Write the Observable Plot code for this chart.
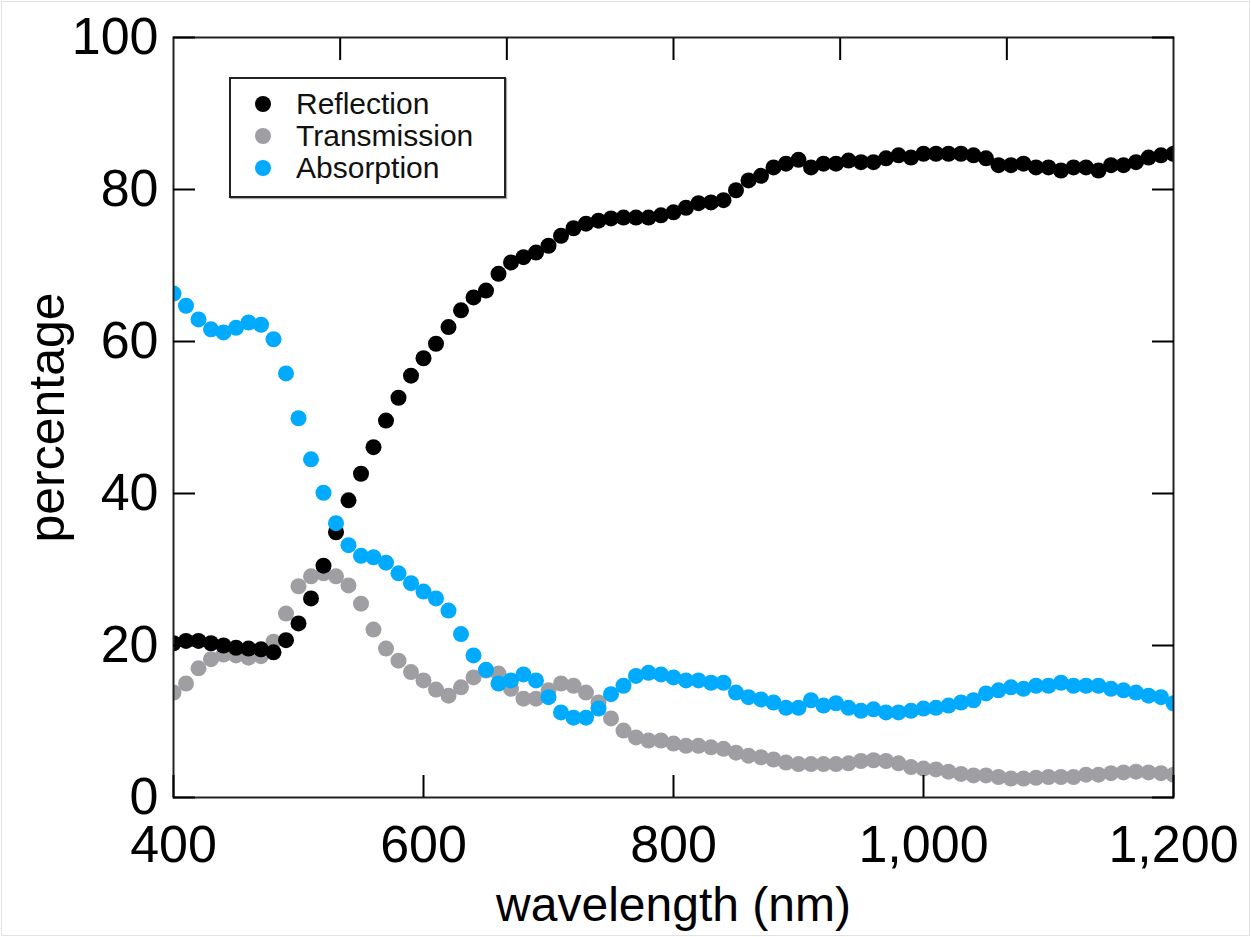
<!DOCTYPE html>
<html><head><meta charset="utf-8">
<script src="https://cdn.jsdelivr.net/npm/d3@7"></script>
<script src="https://cdn.jsdelivr.net/npm/@observablehq/plot@0.6"></script>
<style>
body{margin:0;background:#fff;}
#wrap{position:relative;width:1251px;height:937px;overflow:hidden;}
#edge{position:absolute;left:1px;top:1px;right:1px;bottom:1px;border:1px solid #e2e2e2;pointer-events:none;}
.legend{position:absolute;left:229px;top:77px;width:277px;height:121px;border:2px solid #222;box-shadow:1px 1px 1px #aaa;background:#fff;box-sizing:border-box;font-family:"Liberation Sans",Arial,sans-serif;font-size:30px;padding-top:9px;}
.row{position:relative;height:32px;line-height:32px;}
.sw{position:absolute;left:24px;top:8px;width:16px;height:16px;border-radius:50%;}
.lab{position:absolute;left:65px;top:0;white-space:nowrap;color:#111;}
</style></head>
<body><div id="wrap"><div id="edge"></div></div>
<script>
const wavelengths = [400,410,420,430,440,450,460,470,480,490,500,510,520,530,540,550,560,570,580,590,600,610,620,630,640,650,660,670,680,690,700,710,720,730,740,750,760,770,780,790,800,810,820,830,840,850,860,870,880,890,900,910,920,930,940,950,960,970,980,990,1000,1010,1020,1030,1040,1050,1060,1070,1080,1090,1100,1110,1120,1130,1140,1150,1160,1170,1180,1190,1200];
const reflection = [20.3,20.6,20.6,20.3,20.0,19.7,19.6,19.5,19.1,20.7,22.9,26.2,30.5,34.9,39.1,42.6,46.1,49.6,52.6,55.5,57.8,59.7,61.9,64.1,65.8,66.7,68.9,70.4,71.1,71.7,72.6,73.9,74.9,75.5,75.9,76.2,76.3,76.3,76.3,76.6,77.0,77.6,78.2,78.3,78.6,79.9,81.2,81.8,82.9,83.4,83.9,82.9,83.4,83.4,83.8,83.6,83.6,84.1,84.5,84.2,84.7,84.7,84.7,84.7,84.5,84.1,83.2,83.2,83.4,82.9,82.9,82.5,82.9,82.9,82.5,83.2,83.2,83.6,84.2,84.5,84.7];
const transmission = [13.8,15.0,17.0,18.2,18.8,18.7,18.4,18.6,20.5,24.2,27.8,29.1,29.5,29.1,27.9,25.5,22.1,19.6,18.0,16.5,15.4,14.2,13.4,14.5,15.8,16.7,16.3,14.3,13.0,13.0,14.1,15.0,14.7,13.8,12.5,10.4,8.8,7.9,7.5,7.5,7.1,6.8,6.8,6.6,6.4,5.9,5.5,5.3,5.0,4.6,4.4,4.4,4.4,4.4,4.5,4.8,4.9,4.8,4.5,4.0,3.8,3.7,3.4,3.1,2.9,2.9,2.7,2.5,2.5,2.6,2.7,2.7,2.7,3.0,3.0,3.2,3.3,3.4,3.3,3.2,3.0];
const absorption = [66.3,64.7,62.9,61.6,61.2,61.8,62.5,62.2,60.3,55.8,49.9,44.5,40.1,36.1,33.2,31.8,31.6,30.9,29.5,28.2,27.1,26.2,24.6,21.5,18.7,16.8,15.0,15.4,16.2,15.4,13.2,11.2,10.5,10.5,11.7,13.6,14.7,16.0,16.4,16.2,15.8,15.4,15.4,15.1,15.1,13.8,13.2,12.9,12.5,11.8,11.8,12.8,12.1,12.4,11.8,11.4,11.6,11.2,11.2,11.4,11.7,11.8,12.1,12.5,12.8,13.7,14.1,14.5,14.3,14.7,14.7,15.1,14.7,14.7,14.7,14.3,14.1,13.8,13.4,13.2,12.4];
const seriesNames = ["Reflection","Transmission","Absorption"];
const seriesColors = ["#000000","#9f9fa3","#00aaff"];
const xTicks = [400,600,800,1000,1200];
const topTicks = [533.33,666.67,800,933.33,1066.67];
const yTicks = [0,20,40,60,80,100];
const xLabel = "wavelength (nm)";
const yLabel = "percentage";

const toRows = vals => wavelengths.map((w,i)=>({w, v: vals[i]}));
const rowsR = toRows(reflection), rowsT = toRows(transmission), rowsA = toRows(absorption);

const font = '"Liberation Sans", Arial, Helvetica, sans-serif';
const chart = Plot.plot({
  width: 1251, height: 937,
  marginTop: 37, marginLeft: 173, marginRight: 78, marginBottom: 140,
  style: {fontFamily: font, fontSize: "48px", color: "#000", background: "transparent", overflow: "visible"},
  x: {domain: [400, 1200]},
  y: {domain: [0, 100]},
  marks: [
    Plot.dot(rowsT, {x: "w", y: "v", r: 8, fill: seriesColors[1], stroke: null, clip: true}),
    Plot.dot(rowsR, {x: "w", y: "v", r: 8, fill: seriesColors[0], stroke: null, clip: true}),
    Plot.dot(rowsA, {x: "w", y: "v", r: 8, fill: seriesColors[2], stroke: null, clip: true}),
    Plot.frame({stroke: "#222", strokeWidth: 2}),
    Plot.axisX(xTicks, {anchor: "bottom", tickSize: -22, tickPadding: 50, strokeWidth: 2, tickFormat: d3.format(","), label: null, fontSize: 52}),
    Plot.axisX(topTicks, {anchor: "top", tickSize: -22, strokeWidth: 2, tickFormat: () => "", label: null}),
    Plot.axisY(yTicks, {anchor: "left", tickSize: -22, tickPadding: 37, strokeWidth: 2, label: null, fontSize: 52}),
    Plot.axisY(yTicks, {anchor: "right", tickSize: -22, strokeWidth: 2, tickFormat: () => "", label: null}),
    Plot.text([xLabel], {frameAnchor: "bottom", textAnchor: "middle", lineAnchor: "middle", dy: 108, fontSize: 48, fill: "#000", text: d => d}),
    Plot.text([yLabel], {frameAnchor: "left", textAnchor: "middle", lineAnchor: "middle", dx: -126, rotate: -90, fontSize: 50, fill: "#000", text: d => d})
  ]
});
const wrap = document.getElementById("wrap");
wrap.insertBefore(chart, wrap.firstChild);

const legend = d3.select(wrap).append("div").attr("class", "legend");
seriesNames.forEach((name, i) => {
  const row = legend.append("div").attr("class", "row");
  row.append("div").attr("class", "sw").style("background", seriesColors[i]);
  row.append("div").attr("class", "lab").text(name);
});
</script>
</body></html>
